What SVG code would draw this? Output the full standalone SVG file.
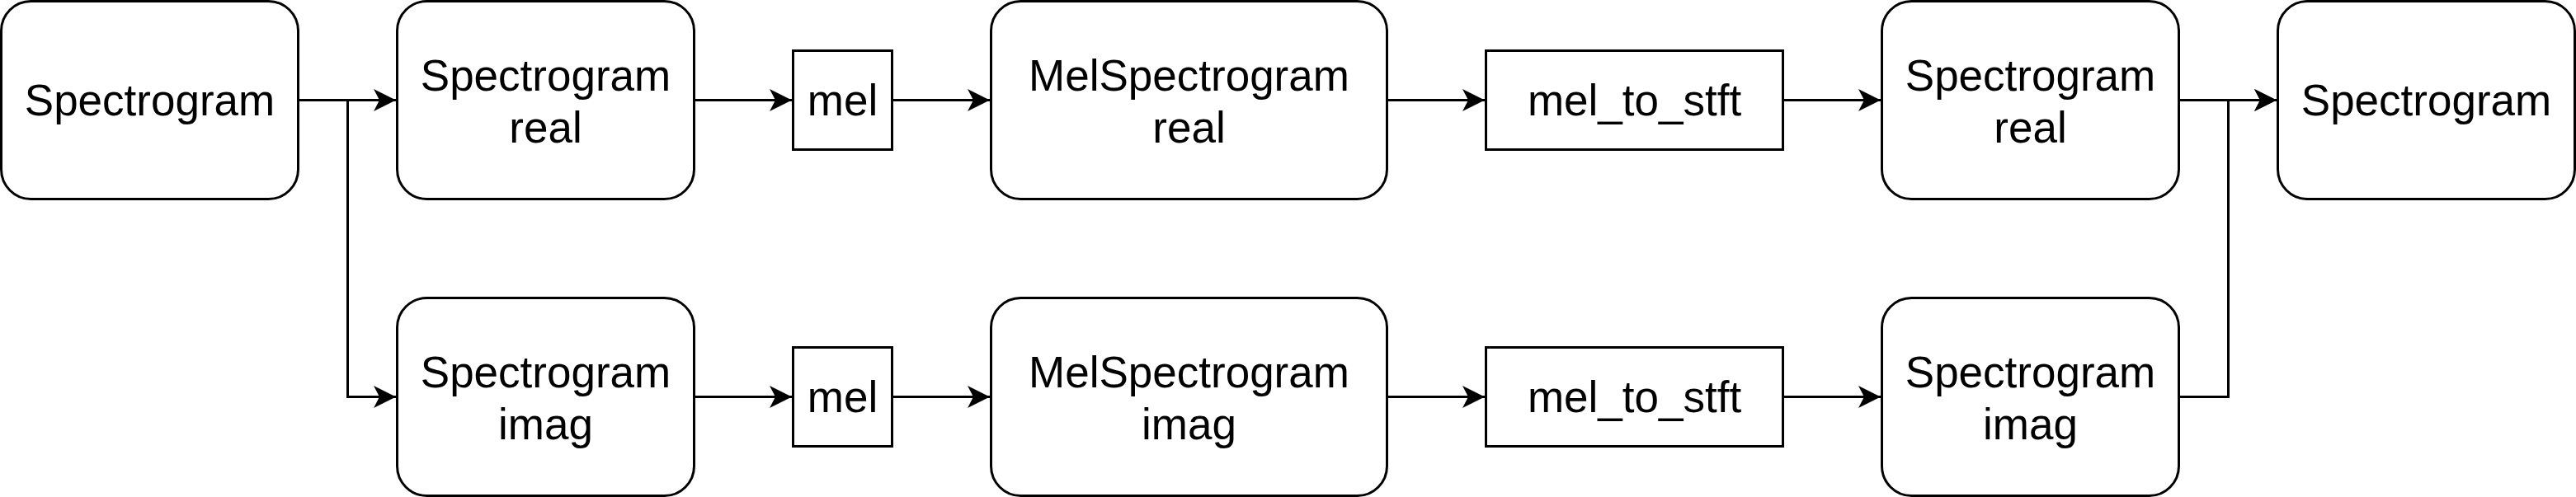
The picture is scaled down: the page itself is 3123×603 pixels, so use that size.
<svg xmlns="http://www.w3.org/2000/svg" width="3123" height="603" viewBox="0 0 3123 603">
<defs>
<style>
.n{fill:#fff;stroke:#000;stroke-width:3}
.t{font-family:"Liberation Sans",Arial,Helvetica,sans-serif;font-size:53px;fill:#000;text-anchor:middle}
.c{fill:none;stroke:#000;stroke-width:3}
</style>
<marker id="ah" viewBox="0 0 27 27" refX="27" refY="13.5" markerWidth="27" markerHeight="27" markerUnits="userSpaceOnUse" orient="auto">
<path d="M27 13.5 L0 0 L7 13.5 L0 27 Z" fill="#000"/>
</marker>
</defs>
<rect width="3123" height="603" fill="#fff"/>
<g id="connectors">
<path class="c" d="M361.5 121.5 H480" marker-end="url(#ah)"/>
<path class="c" d="M361.5 121.5 H421.5 V481.5 H480" marker-end="url(#ah)"/>
<path class="c" d="M841.5 121.5 H960" marker-end="url(#ah)"/>
<path class="c" d="M1081.5 121.5 H1200" marker-end="url(#ah)"/>
<path class="c" d="M1681.5 121.5 H1800" marker-end="url(#ah)"/>
<path class="c" d="M2161.5 121.5 H2280" marker-end="url(#ah)"/>
<path class="c" d="M2641.5 121.5 H2760" marker-end="url(#ah)"/>
<path class="c" d="M841.5 481.5 H960" marker-end="url(#ah)"/>
<path class="c" d="M1081.5 481.5 H1200" marker-end="url(#ah)"/>
<path class="c" d="M1681.5 481.5 H1800" marker-end="url(#ah)"/>
<path class="c" d="M2161.5 481.5 H2280" marker-end="url(#ah)"/>
<path class="c" d="M2641.5 481.5 H2701.5 V121.5 H2760" marker-end="url(#ah)"/>
</g>
<g id="n1"><rect class="n" x="1.5" y="1.5" width="360" height="240" rx="36"/><text class="t" x="181.5" y="140">Spectrogram</text></g>
<g id="n2"><rect class="n" x="481.5" y="1.5" width="360" height="240" rx="36"/><text class="t" x="661.5" y="110">Spectrogram</text><text class="t" x="661.5" y="173">real</text></g>
<g id="n3"><rect class="n" x="961.5" y="61.5" width="120" height="120"/><text class="t" x="1021.5" y="140">mel</text></g>
<g id="n4"><rect class="n" x="1201.5" y="1.5" width="480" height="240" rx="36"/><text class="t" x="1441.5" y="110">MelSpectrogram</text><text class="t" x="1441.5" y="173">real</text></g>
<g id="n5"><rect class="n" x="1801.5" y="61.5" width="360" height="120"/><text class="t" x="1981.5" y="140">mel_to_stft</text></g>
<g id="n6"><rect class="n" x="2281.5" y="1.5" width="360" height="240" rx="36"/><text class="t" x="2461.5" y="110">Spectrogram</text><text class="t" x="2461.5" y="173">real</text></g>
<g id="n7"><rect class="n" x="2761.5" y="1.5" width="360" height="240" rx="36"/><text class="t" x="2941.5" y="140">Spectrogram</text></g>
<g id="n8"><rect class="n" x="481.5" y="361.5" width="360" height="240" rx="36"/><text class="t" x="661.5" y="470">Spectrogram</text><text class="t" x="661.5" y="533">imag</text></g>
<g id="n9"><rect class="n" x="961.5" y="421.5" width="120" height="120"/><text class="t" x="1021.5" y="500">mel</text></g>
<g id="n10"><rect class="n" x="1201.5" y="361.5" width="480" height="240" rx="36"/><text class="t" x="1441.5" y="470">MelSpectrogram</text><text class="t" x="1441.5" y="533">imag</text></g>
<g id="n11"><rect class="n" x="1801.5" y="421.5" width="360" height="120"/><text class="t" x="1981.5" y="500">mel_to_stft</text></g>
<g id="n12"><rect class="n" x="2281.5" y="361.5" width="360" height="240" rx="36"/><text class="t" x="2461.5" y="470">Spectrogram</text><text class="t" x="2461.5" y="533">imag</text></g>
</svg>
